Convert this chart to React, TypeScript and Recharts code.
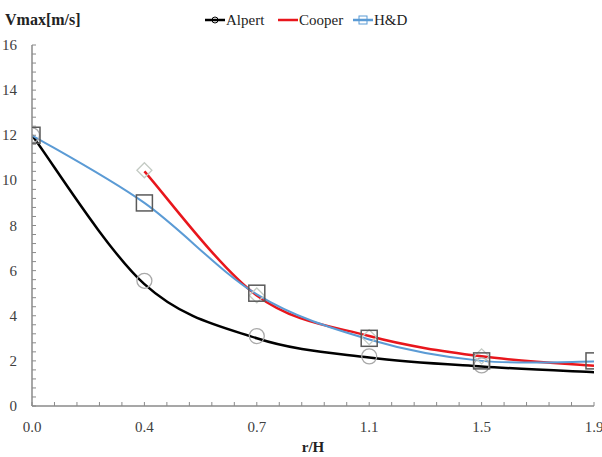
import React from 'react';
import { ComposedChart, Line, Scatter, XAxis, YAxis } from 'recharts';

// x positions of the measurement stations (r/H) and their printed labels
const xValues = [0, 0.37, 0.74, 1.11, 1.48, 1.85];
const xTickLabels = ['0.0', '0.4', '0.7', '1.1', '1.5', '1.9'];
const yMajorTicks = [0, 2, 4, 6, 8, 10, 12, 14, 16];

// smoothed curves
const alpertLine = [12, 5.4, 3.0, 2.15, 1.75, 1.5];
const cooperLine = [null, 10.4, 4.9, 3.1, 2.2, 1.78];
const hdLine = [12, 9.0, 4.95, 2.95, 2.0, 1.97];

// measured markers
const alpertMarkers = [12, 5.55, 3.1, 2.2, 1.8, null];
const cooperMarkers = [null, 10.45, 4.9, 3.05, 2.2, null];
const hdMarkers = [12, 9.0, 5.0, 3.0, 2.0, 2.0];

const seriesNames = ['Alpert', 'Cooper', 'H&D'];
const seriesColors = ['#000000', '#e8161c', '#5b9bd5'];

const FONT = '"Liberation Serif", "Times New Roman", serif';

const lineData = xValues.map((x, i) => ({
  x,
  alpert: alpertLine[i],
  cooper: cooperLine[i],
  hd: hdLine[i],
}));

const toPoints = (arr: (number | null)[]) =>
  xValues.map((x, i) => ({ x, y: arr[i] })).filter((p) => p.y !== null);

const alpertPts = toPoints(alpertMarkers);
const cooperPts = toPoints(cooperMarkers);
const hdPts = toPoints(hdMarkers);

const xAllTicks: number[] = xValues
  .slice(0, -1)
  .flatMap((v, i) => [0, 1, 2, 3, 4].map((k) => v + ((xValues[i + 1] - v) * k) / 5))
  .concat([xValues[xValues.length - 1]]);

const yAllTicks: number[] = yMajorTicks
  .slice(0, -1)
  .flatMap((v, i) => [0, 1, 2, 3, 4].map((k) => v + ((yMajorTicks[i + 1] - v) * k) / 5))
  .concat([yMajorTicks[yMajorTicks.length - 1]]);

// Spreadsheet-style smoothed line (Catmull-Rom bezier) as a curve factory
const smoothCurve: any = (context: any) => {
  let pts: [number, number][] = [];
  return {
    areaStart() {},
    areaEnd() {},
    lineStart() {
      pts = [];
    },
    point(x: number, y: number) {
      pts.push([+x, +y]);
    },
    lineEnd() {
      const n = pts.length;
      if (n === 0) return;
      context.moveTo(pts[0][0], pts[0][1]);
      for (let i = 0; i < n - 1; i++) {
        const p0 = pts[Math.max(i - 1, 0)];
        const p1 = pts[i];
        const p2 = pts[i + 1];
        const p3 = pts[Math.min(i + 2, n - 1)];
        context.bezierCurveTo(
          p1[0] + (p2[0] - p0[0]) / 6,
          p1[1] + (p2[1] - p0[1]) / 6,
          p2[0] - (p3[0] - p1[0]) / 6,
          p2[1] - (p3[1] - p1[1]) / 6,
          p2[0],
          p2[1]
        );
      }
    },
  };
};

const XTick = (props: any) => {
  const { x, y, payload } = props;
  const idx = xValues.findIndex((v) => Math.abs(v - payload.value) < 1e-6);
  return (
    <g>
      <line x1={x} x2={x} y1={y} y2={y - 4} stroke="#8a8a8a" strokeWidth={1} />
      {idx >= 0 && (
        <text x={x} y={y + 26} textAnchor="middle" fontFamily={FONT} fontSize={15} fill="#404040">
          {xTickLabels[idx]}
        </text>
      )}
    </g>
  );
};

const YTick = (props: any) => {
  const { x, y, payload } = props;
  const idx = yMajorTicks.findIndex((v) => Math.abs(v - payload.value) < 1e-6);
  return (
    <g>
      <line x1={x} x2={x + 4} y1={y} y2={y} stroke="#8a8a8a" strokeWidth={1} />
      {idx >= 0 && (
        <text x={x - 15} y={y + 5} textAnchor="end" fontFamily={FONT} fontSize={15} fill="#404040">
          {yMajorTicks[idx]}
        </text>
      )}
    </g>
  );
};

const CircleShape = (p: any) =>
  p.cx == null || p.cy == null ? null : (
    <circle cx={p.cx} cy={p.cy} r={7.5} fill="none" stroke="#a8a8a8" strokeWidth={1.3} />
  );

const DiamondShape = (p: any) =>
  p.cx == null || p.cy == null ? null : (
    <path
      d={`M${p.cx},${p.cy - 7.5} L${p.cx + 7.5},${p.cy} L${p.cx},${p.cy + 7.5} L${p.cx - 7.5},${p.cy} Z`}
      fill="none"
      stroke="#c4cbc4"
      strokeWidth={1.3}
    />
  );

const SquareShape = (p: any) =>
  p.cx == null || p.cy == null ? null : (
    <rect x={p.cx - 8} y={p.cy - 8} width={16} height={16} fill="none" stroke="#5a5a5a" strokeWidth={1.5} />
  );

const legendX = [205, 278, 353];

export default function App() {
  return (
    <div style={{ position: 'absolute', left: 0, top: 0, width: 602, height: 457, background: '#fff' }}>
      <ComposedChart
        width={602}
        height={457}
        data={lineData}
        margin={{ top: 45, right: 8, bottom: 0, left: 0 }}
      >
        <XAxis
          dataKey="x"
          type="number"
          domain={[0, 1.85]}
          ticks={xAllTicks}
          interval={0}
          tick={<XTick />}
          tickLine={false}
          tickSize={0}
          tickMargin={0}
          height={51}
          axisLine={{ stroke: '#8a8a8a', strokeWidth: 1.5 }}
          allowDataOverflow
        />
        <XAxis
          xAxisId="top"
          orientation="top"
          type="number"
          domain={[0, 1.85]}
          tick={false}
          tickLine={false}
          height={0}
          axisLine={{ stroke: '#8a8a8a', strokeWidth: 1.5 }}
        />
        <YAxis
          type="number"
          domain={[0, 16]}
          ticks={yAllTicks}
          interval={0}
          tick={<YTick />}
          tickLine={false}
          tickSize={0}
          tickMargin={0}
          width={32}
          axisLine={{ stroke: '#8a8a8a', strokeWidth: 1.5 }}
          allowDataOverflow
        />
        <YAxis
          yAxisId="right"
          orientation="right"
          type="number"
          domain={[0, 16]}
          tick={false}
          tickLine={false}
          width={0}
          axisLine={{ stroke: '#8a8a8a', strokeWidth: 1.5 }}
        />
        <Scatter data={alpertPts} dataKey="y" shape={CircleShape} isAnimationActive={false} />
        <Scatter data={cooperPts} dataKey="y" shape={DiamondShape} isAnimationActive={false} />
        <Line
          type={smoothCurve}
          dataKey="alpert"
          stroke={seriesColors[0]}
          strokeWidth={2.5}
          dot={false}
          isAnimationActive={false}
        />
        <Line
          type={smoothCurve}
          dataKey="cooper"
          stroke={seriesColors[1]}
          strokeWidth={2.5}
          dot={false}
          isAnimationActive={false}
        />
        <Line
          type={smoothCurve}
          dataKey="hd"
          stroke={seriesColors[2]}
          strokeWidth={2}
          dot={false}
          isAnimationActive={false}
        />
        <Scatter data={hdPts} dataKey="y" shape={SquareShape} isAnimationActive={false} />
      </ComposedChart>
      <svg
        width={602}
        height={457}
        style={{ position: 'absolute', left: 0, top: 0, pointerEvents: 'none' }}
      >
        <text x={5} y={25} fontFamily={FONT} fontSize={16} fontWeight="bold" fill="#222">
          Vmax[m/s]
        </text>
        {seriesNames.map((name, i) => (
          <g key={name}>
            <line
              x1={legendX[i]}
              x2={legendX[i] + 20}
              y1={20}
              y2={20}
              stroke={seriesColors[i]}
              strokeWidth={2.5}
            />
            {i === 0 && <circle cx={legendX[i] + 10} cy={20} r={3} fill="none" stroke="#000" strokeWidth={1} />}
            {i === 2 && (
              <rect x={legendX[i] + 6} y={16} width={8} height={8} fill="none" stroke={seriesColors[i]} strokeWidth={1} />
            )}
            <text x={legendX[i] + 21} y={25} fontFamily={FONT} fontSize={15} fill="#222">
              {name}
            </text>
          </g>
        ))}
        <text x={313} y={452} textAnchor="middle" fontFamily={FONT} fontSize={15} fontWeight="bold" fill="#222">
          r/H
        </text>
      </svg>
    </div>
  );
}
